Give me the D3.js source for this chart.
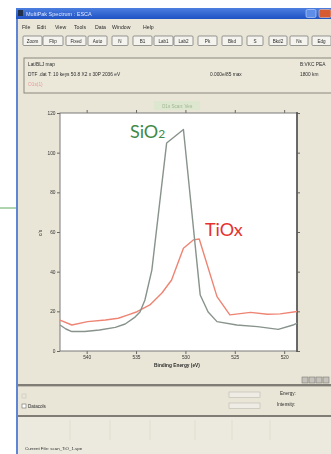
<!DOCTYPE html>
<html>
<head>
<meta charset="utf-8">
<script src="https://cdn.jsdelivr.net/npm/d3@7"></script>
<style>
  html, body { margin: 0; padding: 0; background: #fff; }
  svg { display: block; }
  .ui { font-family: "Liberation Sans", Arial, sans-serif; fill: #2b2b2b; }
</style>
</head>
<body>
<svg id="chart" width="331" height="454"></svg>
<script>
// binding energy (eV) and counts per second
const sioEnergy = [542.7, 542.1, 541.5, 540.2, 538.7, 537.1, 536.1, 535.1, 534.6, 534.1, 533.4, 531.9, 530.2, 528.5, 527.7, 526.8, 524.8, 522.7, 520.6, 519.1, 518.7];
const sioCounts = [13.1, 11.1, 9.8, 9.8, 10.6, 11.9, 13.6, 17.1, 19.7, 25.7, 40.8, 104.9, 111.7, 28.2, 19.7, 14.8, 13.1, 12.3, 10.9, 13.1, 14.1];

const tioEnergy = [542.7, 541.5, 539.9, 538.1, 536.8, 535.8, 534.9, 533.6, 532.4, 531.4, 530.2, 529.2, 528.6, 526.8, 525.5, 523.4, 521.7, 520.4, 518.7];
const tioCounts = [15.6, 13.1, 14.8, 15.6, 16.5, 18.2, 19.8, 23.2, 29.1, 35.8, 51.8, 56.0, 56.5, 27.4, 18.2, 19.5, 18.5, 18.7, 19.9];

const xTicks = [540, 535, 530, 525, 520];
const yTicks = [0, 20, 40, 60, 80, 100, 120];

const menuItems = ["File", "Edit", "View", "Tools", "Data", "Window", "Help"];
const toolButtons = ["Zoom", "Flip", "Fixed", "Auto", "N", "B1", "Lab1", "Lab2", "Pk", "Bkd", "S", "Bkd2", "Ns", "Edg"];

const svg = d3.select("#chart");
const beige = "#e9e6d7";

// window chrome
svg.append("rect").attr("x", 16).attr("y", 8).attr("width", 315).attr("height", 446).attr("fill", beige);
svg.append("rect").attr("x", 16).attr("y", 8).attr("width", 2).attr("height", 446).attr("fill", "#5f86d6");

const grad = svg.append("defs").append("linearGradient").attr("id", "tb").attr("x1", 0).attr("y1", 0).attr("x2", 0).attr("y2", 1);
grad.append("stop").attr("offset", 0).attr("stop-color", "#4d7fe0");
grad.append("stop").attr("offset", 1).attr("stop-color", "#1f52c4");
svg.append("rect").attr("x", 16).attr("y", 8).attr("width", 315).attr("height", 11).attr("fill", "url(#tb)");
svg.append("rect").attr("x", 18).attr("y", 10).attr("width", 5).attr("height", 6).attr("fill", "#22324a");
svg.append("text").attr("class", "ui").attr("x", 26).attr("y", 16).attr("font-size", 5.5)
  .style("fill", "#dfe8ff").style("filter", "blur(0.35px)").text("MultiPak Spectrum : ESCA");
svg.append("rect").attr("x", 306).attr("y", 9.5).attr("width", 10).attr("height", 8).attr("rx", 1.5).attr("fill", "#5f8ee8").attr("stroke", "#c9d8f6").attr("stroke-width", 0.6);
svg.append("rect").attr("x", 319).attr("y", 9.5).attr("width", 12).attr("height", 8).attr("rx", 1.5).attr("fill", "#d65a32").attr("stroke", "#f2c4b0").attr("stroke-width", 0.6);

// toolbar buttons
const btnX = [23, 43, 66, 88, 112, 133, 154, 174, 198, 222, 247, 269, 290, 312];
const btnW = [19, 20, 20, 19, 16, 19, 19, 19, 19, 20, 16, 18, 18, 19];
svg.selectAll(".btn").data(toolButtons).join("rect")
  .attr("x", (d, i) => btnX[i]).attr("y", 36).attr("width", (d, i) => btnW[i]).attr("height", 9.5).attr("rx", 1)
  .attr("fill", "#f4f3ee").attr("stroke", "#6f6f6f").attr("stroke-width", 0.7);

// info panel
svg.append("rect").attr("x", 24).attr("y", 58).attr("width", 310).attr("height", 35)
  .attr("fill", "#ebe8da").attr("stroke", "#8a877c").attr("stroke-width", 1);

// plot header tag
svg.append("rect").attr("x", 154).attr("y", 101).attr("width", 46).attr("height", 9).attr("fill", "#dde6cf");

// plot
const x = d3.scaleLinear().domain([542.7, 518.7]).range([60, 297]);
const y = d3.scaleLinear().domain([0, 120]).range([351, 113]);

svg.append("rect").attr("x", 60).attr("y", 113).attr("width", 237).attr("height", 238).attr("fill", "#fff");

const axisStyle = g => {
  g.select(".domain").remove();
  g.selectAll("line").attr("stroke", "#666");
  g.selectAll("text").attr("font-family", "Liberation Sans, Arial, sans-serif").attr("font-size", 4.8)
    .attr("fill", "#333").style("filter", "blur(0.3px)");
};
svg.append("g").attr("transform", "translate(0,351)")
  .call(d3.axisBottom(x).tickValues(xTicks).tickSize(3).tickPadding(1.5)).call(axisStyle);
svg.append("g").attr("transform", "translate(60,0)")
  .call(d3.axisLeft(y).tickValues(yTicks).tickSize(3).tickPadding(1.5)).call(axisStyle);
svg.append("g").attr("transform", "translate(0,113)")
  .call(d3.axisTop(x).tickValues(xTicks).tickSize(3).tickFormat("")).call(axisStyle);
svg.append("g").attr("transform", "translate(297,0)")
  .call(d3.axisRight(y).tickValues(yTicks).tickSize(3).tickFormat("")).call(axisStyle);

svg.append("rect").attr("x", 60).attr("y", 113).attr("width", 237).attr("height", 238)
  .attr("fill", "none").attr("stroke", "#7a7a7a").attr("stroke-width", 1);
svg.append("line").attr("x1", 297).attr("x2", 297).attr("y1", 112).attr("y2", 352)
  .attr("stroke", "#555").attr("stroke-width", 1.6);

const line = d3.line().x(d => x(d[0])).y(d => y(d[1]));
svg.append("path").datum(d3.zip(tioEnergy, tioCounts)).attr("d", line)
  .attr("fill", "none").attr("stroke", "#ee8473").attr("stroke-width", 1.4).attr("stroke-linejoin", "round");
svg.append("path").datum(d3.zip(sioEnergy, sioCounts)).attr("d", line)
  .attr("fill", "none").attr("stroke", "#87938b").attr("stroke-width", 1.4).attr("stroke-linejoin", "round");

// series labels
const sioLabel = svg.append("text").attr("x", 130).attr("y", 138)
  .attr("font-family", "Lato, 'Noto Sans', sans-serif").attr("font-size", 18).attr("fill", "#3e8a46");
sioLabel.append("tspan").text("SiO");
sioLabel.append("tspan").attr("font-size", 12).text("2");
svg.append("text").attr("x", 205).attr("y", 235.5)
  .attr("font-family", "Lato, 'Noto Sans', sans-serif").attr("font-size", 18).attr("fill", "#e6322f").text("TiOx");

// scroll buttons
svg.selectAll(".sb").data([0, 1, 2, 3]).join("rect")
  .attr("x", d => 302 + d * 7).attr("y", 377).attr("width", 6).attr("height", 6)
  .attr("fill", "#c4c2ba").attr("stroke", "#7d7b74").attr("stroke-width", 0.6);

// lower panels
svg.append("rect").attr("x", 18).attr("y", 384).attr("width", 313).attr("height", 2).attr("fill", "#7f7d75");
svg.append("rect").attr("x", 18).attr("y", 386).attr("width", 313).attr("height", 1).attr("fill", "#c2bfb2");
svg.append("rect").attr("x", 22).attr("y", 394).attr("width", 4).attr("height", 4).attr("fill", "none").attr("stroke", "#c8c6bd").attr("stroke-width", 0.6);
svg.append("rect").attr("x", 22).attr("y", 404).attr("width", 4).attr("height", 4).attr("fill", "#fff").attr("stroke", "#6d6b65").attr("stroke-width", 0.6);
svg.selectAll(".inp").data([0, 1]).join("rect")
  .attr("x", 229).attr("y", d => 392 + d * 11).attr("width", 31).attr("height", 5.5)
  .attr("fill", "#eeece4").attr("stroke", "#bdbab0").attr("stroke-width", 0.6);

svg.append("rect").attr("x", 18).attr("y", 415).attr("width", 313).attr("height", 2).attr("fill", "#7f7d75");
svg.append("rect").attr("x", 18).attr("y", 417).attr("width", 313).attr("height", 37).attr("fill", "#eceade");
svg.selectAll(".div").data([70, 110, 150, 195, 232, 270]).join("line")
  .attr("x1", d => d).attr("x2", d => d).attr("y1", 420).attr("y2", 440)
  .attr("stroke", "#e0ddd0").attr("stroke-width", 1);

// all small interface text, drawn last so nothing covers it
const chromeText = svg.append("g").attr("class", "ui").style("filter", "blur(0.35px)");

const menuX = [22, 37, 55, 74, 95, 112, 143];
chromeText.selectAll(".menu").data(menuItems).join("text")
  .attr("x", (d, i) => menuX[i]).attr("y", 28.5).attr("font-size", 5.2).text(d => d);

chromeText.selectAll(".btnlabel").data(toolButtons).join("text")
  .attr("x", (d, i) => btnX[i] + btnW[i] / 2).attr("y", 42.8).attr("text-anchor", "middle")
  .attr("font-size", 4.6).text(d => d);

chromeText.append("text").attr("x", 28).attr("y", 66).attr("font-size", 4.8).text("Lat/BLJ map");
chromeText.append("text").attr("x", 300).attr("y", 66).attr("font-size", 4.8).text("B:VKC PEA");
chromeText.append("text").attr("x", 28).attr("y", 76).attr("font-size", 4.8).text("DTF .dat T: 10 keys  50.8  X2 x  30P  2036 eV");
chromeText.append("text").attr("x", 210).attr("y", 76).attr("font-size", 4.8).text("0.000e/85 max");
chromeText.append("text").attr("x", 300).attr("y", 76).attr("font-size", 4.8).text("1800 km");
chromeText.append("text").attr("x", 28).attr("y", 86).attr("font-size", 4.8).style("fill", "#e59a9a").text("O1s(1)");

chromeText.append("text").attr("x", 177).attr("y", 107.5).attr("text-anchor", "middle")
  .attr("font-size", 4.6).style("fill", "#9fb58f").text("O1s Scan: Ves");

chromeText.append("text").attr("x", 177).attr("y", 367).attr("text-anchor", "middle")
  .attr("font-size", 4.8).attr("font-weight", "bold").text("Binding Energy (eV)");
chromeText.append("text").attr("transform", "translate(42,233) rotate(-90)").attr("text-anchor", "middle")
  .attr("font-size", 4.8).text("c/s");

chromeText.append("text").attr("x", 28).attr("y", 408).attr("font-size", 4.6).text("Datacols");
chromeText.append("text").attr("x", 280).attr("y", 395).attr("font-size", 4.6).text("Energy:");
chromeText.append("text").attr("x", 277).attr("y", 406).attr("font-size", 4.6).text("Intensity:");
chromeText.append("text").attr("x", 25).attr("y", 450).attr("font-size", 4.4).text("Current File: scan_TiO_1.spe");

// callout line on the page margin
svg.append("line").attr("x1", 0).attr("x2", 16).attr("y1", 208).attr("y2", 208)
  .attr("stroke", "#5fa95f").attr("stroke-width", 1);
</script>
</body>
</html>
